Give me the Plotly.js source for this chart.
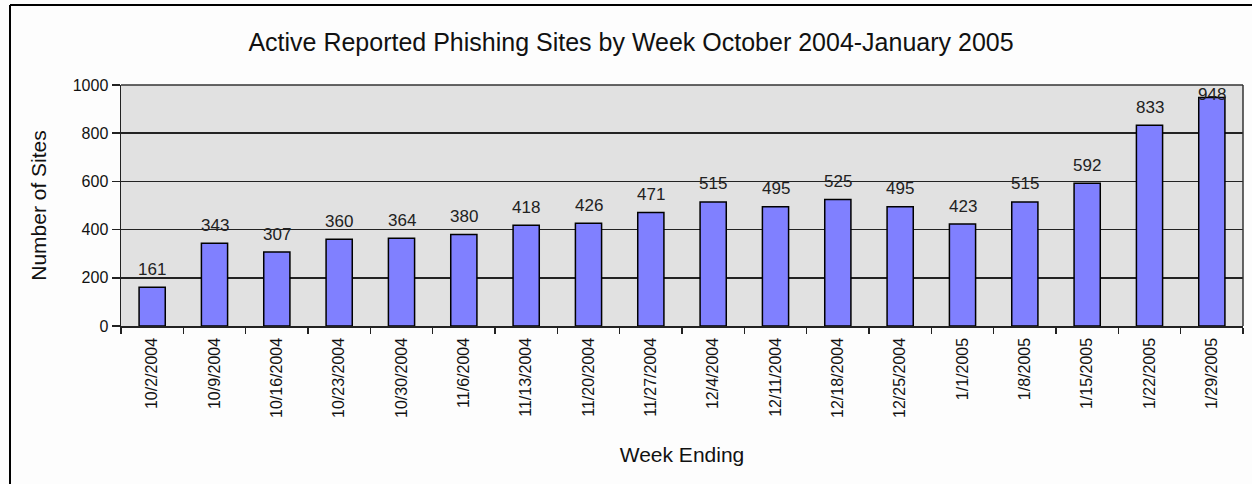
<!DOCTYPE html>
<html><head><meta charset="utf-8">
<script src="https://cdn.plot.ly/plotly-3.0.1.min.js"></script>
<style>html,body{margin:0;padding:0;background:#fdfdfd;}#chart{width:1252px;height:484px;}</style>
</head><body><div id="chart"></div>
<script>
const weeks = ["10/2/2004","10/9/2004","10/16/2004","10/23/2004","10/30/2004","11/6/2004","11/13/2004","11/20/2004","11/27/2004","12/4/2004","12/11/2004","12/18/2004","12/25/2004","1/1/2005","1/8/2005","1/15/2005","1/22/2005","1/29/2005"];
const sites = [161,343,307,360,364,380,418,426,471,515,495,525,495,423,515,592,833,948];
const chartTitle = "Active Reported Phishing Sites by Week October 2004-January 2005";
const xTitle = "Week Ending";
const yTitle = "Number of Sites";

const W = 1252, H = 484;
const L = 121, R = 9, T = 85, B = 158;
const pw = W - L - R, ph = H - T - B;
const px = v => (v - L) / pw;
const py = v => (H - B - v) / ph;
const FONT = 'Arial, "Liberation Sans", sans-serif';
const YMAX = 1000;

const trace = {
  type: 'bar', x: weeks, y: sites,
  marker: {color: '#8080ff', line: {color: '#000', width: 1.5}},
  hoverinfo: 'skip'
};
// value labels: centred ~18px above each bar top, kept inside the plot area (as Excel does)
const labelAnns = weeks.map((w, i) => {
  const barTopPx = (1 - sites[i] / YMAX) * ph;      // distance from plot top
  const shift = Math.min(18, Math.max(0, barTopPx - 10));
  return {x: w, y: sites[i], xref: 'x', yref: 'y', text: String(sites[i]), showarrow: false,
          yanchor: 'middle', yshift: shift, font: {family: FONT, size: 17, color: '#222'}};
});
const layout = {
  width: W, height: H,
  margin: {l: L, r: R, t: T, b: B, pad: 0},
  paper_bgcolor: '#fdfdfd', plot_bgcolor: '#e1e1e1',
  font: {family: FONT, color: '#000'},
  bargap: 0.58,
  showlegend: false,
  title: {text: chartTitle, x: 631 / W, xref: 'container', xanchor: 'center', y: 1 - 42 / H, yanchor: 'middle', font: {size: 25, color: '#111'}},
  xaxis: {
    type: 'category', tickangle: -90, tickson: 'boundaries', ticks: 'outside', ticklen: 6, tickwidth: 1.5, tickcolor: '#222',
    showline: true, linecolor: '#222', linewidth: 1.5, mirror: false, showgrid: false,
    ticklabelstandoff: 4,
    tickfont: {size: 16, color: '#111'},
    title: {text: xTitle, font: {size: 21, color: '#111'}, standoff: 30}
  },
  yaxis: {
    range: [0, YMAX], tickvals: [0,200,400,600,800,1000], ticks: 'outside', ticklen: 8, tickwidth: 1.5, tickcolor: '#222',
    showline: true, linecolor: '#222', linewidth: 1.5, showgrid: true, gridcolor: '#222', gridwidth: 1.5,
    zeroline: false, tickfont: {size: 16, color: '#111'},
    title: {text: yTitle, font: {size: 21, color: '#111'}, standoff: 20}
  },
  annotations: labelAnns,
  shapes: [
    {type: 'line', xref: 'paper', yref: 'paper', x0: 1, x1: 1, y0: 0, y1: 1, line: {color: '#333', width: 1.5}},
    {type: 'line', xref: 'paper', yref: 'paper', x0: 0, x1: 1, y0: 1, y1: 1, line: {color: '#333', width: 1.5}},
    {type: 'line', xref: 'paper', yref: 'paper', x0: px(10), x1: px(10), y0: py(5), y1: py(490), line: {color: '#000', width: 2}},
    {type: 'line', xref: 'paper', yref: 'paper', x0: px(10), x1: px(1260), y0: py(5), y1: py(5), line: {color: '#000', width: 2}}
  ]
};
Plotly.newPlot('chart', [trace], layout, {displayModeBar: false, staticPlot: true});
</script></body></html>
